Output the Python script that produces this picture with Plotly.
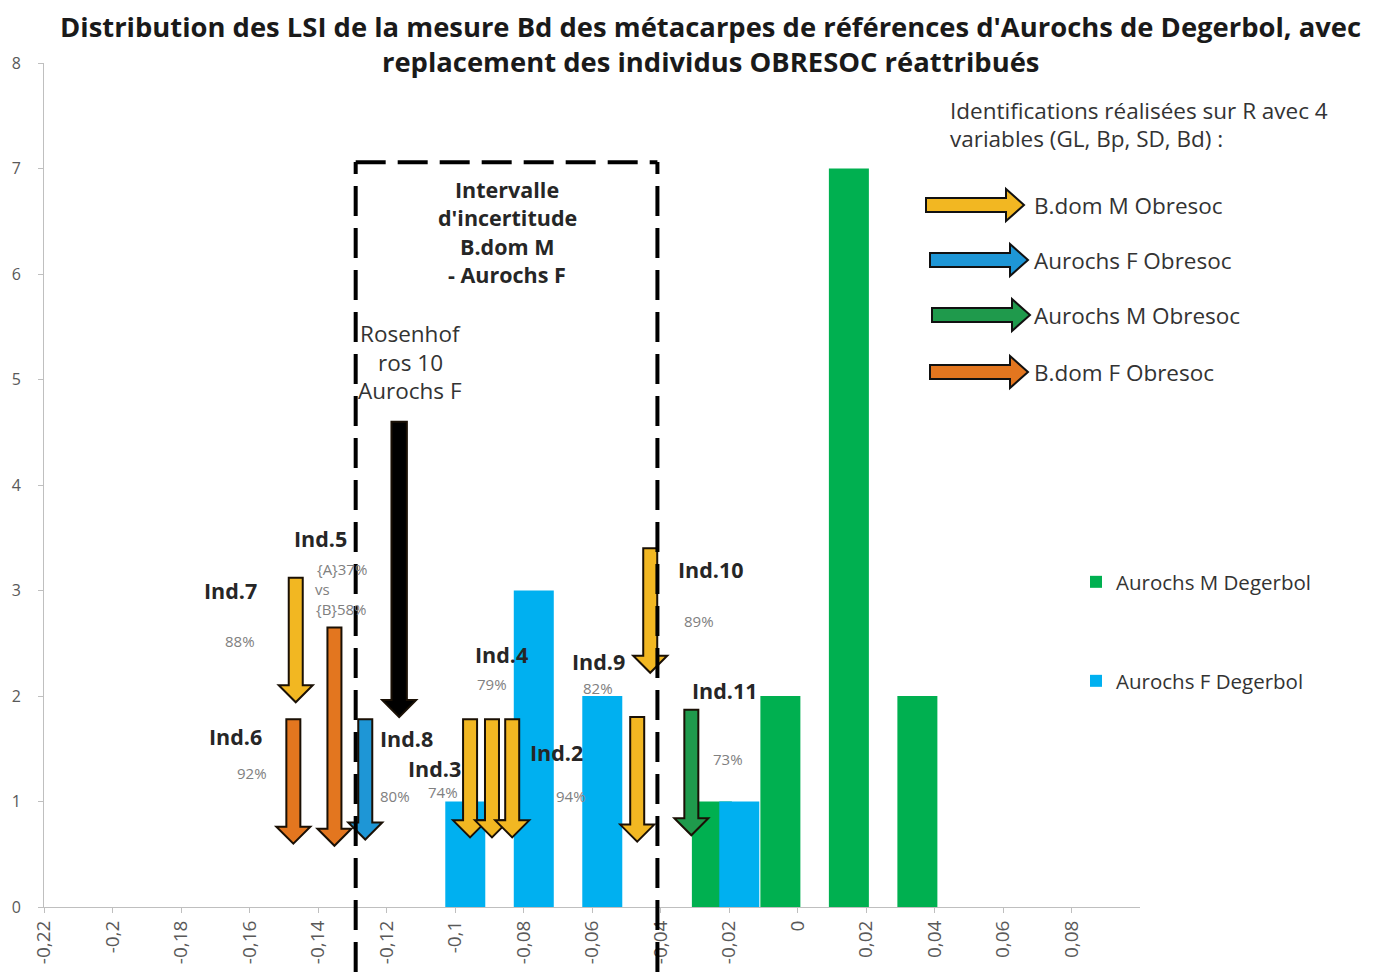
import plotly.graph_objects as go

# ---------------- data ----------------
# Degerbol reference histograms (LSI bin position, count)
lsi_f_degerbol = [-0.097, -0.077, -0.057, -0.017]
count_f_degerbol = [1, 3, 2, 1]
lsi_m_degerbol = [-0.025, -0.005, 0.015, 0.035]
count_m_degerbol = [1, 2, 7, 2]

# x axis ticks
x_tickvals = [-0.22, -0.20, -0.18, -0.16, -0.14, -0.12, -0.10, -0.08, -0.06,
              -0.04, -0.02, 0.0, 0.02, 0.04, 0.06, 0.08]
x_ticktext = ["-0,22", "-0,2", "-0,18", "-0,16", "-0,14", "-0,12", "-0,1", "-0,08",
              "-0,06", "-0,04", "-0,02", "0", "0,02", "0,04", "0,06", "0,08"]
y_tickvals = [0, 1, 2, 3, 4, 5, 6, 7, 8]

# OBRESOC reattributed individuals (arrows): LSI position, arrow top, arrow tip, group
arrow_name = ["Ind.7", "Ind.6", "Ind.5", "Ind.8", "Rosenhof ros 10", "Ind.3", "Ind.4",
              "Ind.2", "Ind.9", "Ind.10", "Ind.11"]
arrow_lsi = [-0.1465, -0.1472, -0.1352, -0.1262, -0.1163, -0.0956, -0.0892, -0.0833,
             -0.0468, -0.0430, -0.0310]
arrow_top = [3.12, 1.78, 2.65, 1.78, 4.60, 1.78, 1.78, 1.78, 1.80, 3.40, 1.87]
arrow_tip = [1.94, 0.60, 0.58, 0.64, 1.80, 0.66, 0.66, 0.66, 0.62, 2.22, 0.68]
arrow_group = ["B.dom M", "B.dom F", "B.dom F", "Aurochs F", "Rosenhof", "B.dom M",
               "B.dom M", "B.dom M", "B.dom M", "B.dom M", "Aurochs M"]

# uncertainty interval B.dom M - Aurochs F
interval_lsi = [-0.129, -0.0409]
interval_top = 7.06

# arrow legend (identification categories)
id_labels = ["B.dom M Obresoc", "Aurochs F Obresoc", "Aurochs M Obresoc", "B.dom F Obresoc"]
id_groups = ["B.dom M", "Aurochs F", "Aurochs M", "B.dom F"]

# ---------------- style / layout ----------------
W, H = 1381, 972
OFF = 8  # page body margin of the html page
REF_L, REF_T, REF_R, REF_B = 44, 63, 1140, 907  # plot area as seen on the page
L, T = REF_L - OFF, REF_T - OFF
R, B = W - (REF_R - OFF), H - (REF_B - OFF)
PW, PH = REF_R - REF_L, REF_B - REF_T
FONT = "Open Sans"
DARK = "#262626"
GREY = "#808080"

group_fill = {"B.dom M": "#f2b722", "B.dom F": "#e3761f", "Aurochs F": "#1e96d6",
              "Aurochs M": "#1f9a4c", "Rosenhof": "#000000"}
green_bar = "#00b050"
blue_bar = "#00b0f0"

X0, X1 = -0.22, 0.10
Y0, Y1 = 0, 8


def px_x(px):
    return (px - REF_L) / PW


def px_y(py):
    return (REF_B - py) / PH


def dx(px):  # pixel width -> data x units
    return px * (X1 - X0) / PW


def dy(py):  # pixel height -> data y units
    return py * (Y1 - Y0) / PH


fig = go.Figure()

fig.add_trace(go.Bar(x=lsi_m_degerbol, y=count_m_degerbol, width=dx(40),
                     marker=dict(color=green_bar, line=dict(width=0)),
                     name="Aurochs M Degerbol", legend="legend"))
fig.add_trace(go.Bar(x=lsi_f_degerbol, y=count_f_degerbol, width=dx(40),
                     marker=dict(color=blue_bar, line=dict(width=0)),
                     name="Aurochs F Degerbol", legend="legend2"))

shapes = []

# down arrows for individuals
sw, hw, hl = dx(7), dx(17), dy(17)
for x, top, tip, g in zip(arrow_lsi, arrow_top, arrow_tip, arrow_group):
    s = sw * (1.1 if g == "Rosenhof" else 1.0)
    path = (f"M{x - s},{top} L{x + s},{top} L{x + s},{tip + hl} L{x + hw},{tip + hl} "
            f"L{x},{tip} L{x - hw},{tip + hl} L{x - s},{tip + hl} Z")
    shapes.append(dict(type="path", xref="x", yref="y", path=path,
                       fillcolor=group_fill[g], line=dict(color="#1a1005", width=2),
                       layer="above"))

# dashed uncertainty box
dash_line = dict(color="#000000", width=4, dash="30px,12px")
for xv in interval_lsi:
    shapes.append(dict(type="line", xref="x", yref="paper", x0=xv, x1=xv,
                       y0=px_y(972), y1=px_y(162), line=dash_line, layer="above"))
shapes.append(dict(type="line", xref="x", yref="y", x0=interval_lsi[0], x1=interval_lsi[1],
                   y0=interval_top, y1=interval_top, line=dash_line, layer="above"))

# legend arrows (pointing right), in pixel layout
leg_arrow_x = [(926, 1024), (930, 1028), (932, 1030), (930, 1028)]
leg_arrow_y = [205, 260, 315, 372]
for (xa, xb), yc, g in zip(leg_arrow_x, leg_arrow_y, id_groups):
    x0, x1 = px_x(xa), px_x(xb)
    h = px_x(xb - 18)
    ys, yh = 7 / PH, 16 / PH
    y = px_y(yc)
    path = (f"M{x0},{y - ys} L{h},{y - ys} L{h},{y - yh} L{x1},{y} L{h},{y + yh} "
            f"L{h},{y + ys} L{x0},{y + ys} Z")
    shapes.append(dict(type="path", xref="paper", yref="paper", path=path,
                       fillcolor=group_fill[g], line=dict(color="#111111", width=2)))

annotations = []


def add_text(text, px, py, size, bold=False, color=DARK, xanchor="center"):
    annotations.append(dict(
        text=f"<b>{text}</b>" if bold else text, xref="paper", yref="paper",
        x=px_x(px), y=px_y(py), xanchor=xanchor, yanchor="middle", showarrow=False,
        font=dict(family=FONT, size=size, color=color)))


# title
add_text("Distribution des LSI de la mesure Bd des métacarpes de références d'Aurochs de Degerbol, avec",
         710, 27, 27.4, bold=True, color="#1a1a1a")
add_text("replacement des individus OBRESOC réattribués", 710, 62, 27.4, bold=True, color="#1a1a1a")

# uncertainty interval label
for line, py in zip(["Intervalle", "d'incertitude", "B.dom M", "- Aurochs F"], [190, 218, 246, 274]):
    add_text(line, 507, py, 21.5, bold=True)

# Rosenhof label
for line, py in zip(["Rosenhof", "ros 10", "Aurochs F"], [334, 362, 390]):
    add_text(line, 410, py, 22.5, color="#333333")

# identification heading
add_text("Identifications réalisées sur R avec 4", 948, 110, 22.5, color="#333333", xanchor="left")
add_text("variables (GL, Bp, SD, Bd) :", 948, 138, 22.5, color="#333333", xanchor="left")
for lab, yc in zip(id_labels, leg_arrow_y):
    add_text(lab, 1032, yc, 22.5, color="#333333", xanchor="left")

# individual labels
ind_labels = [("Ind.5", 320, 538), ("Ind.7", 230, 590), ("Ind.6", 235, 736), ("Ind.8", 406, 738),
              ("Ind.3", 434, 768), ("Ind.4", 501, 654), ("Ind.2", 556, 752), ("Ind.9", 598, 661),
              ("Ind.10", 711, 569), ("Ind.11", 725, 690)]
for t, x, y in ind_labels:
    add_text(t, x, y, 21.5, bold=True)

pct_labels = [("{A}37%", 342, 569), ("vs", 322, 589), ("{B}58%", 342, 609), ("88%", 240, 641),
              ("92%", 252, 773), ("80%", 395, 796), ("74%", 443, 792), ("79%", 492, 684),
              ("94%", 571, 796), ("82%", 598, 688), ("89%", 699, 621), ("73%", 728, 759)]
for t, x, y in pct_labels:
    add_text(t, x, y, 15, color=GREY)

leg_font = dict(family=FONT, size=20.5, color="#333333")
fig.update_layout(
    width=W, height=H,
    margin=dict(l=L, r=R, t=T, b=B, autoexpand=False),
    paper_bgcolor="white", plot_bgcolor="white",
    barmode="overlay",
    showlegend=True,
    legend=dict(x=px_x(1076), y=px_y(582), xanchor="left", yanchor="middle",
                font=leg_font, bgcolor="rgba(0,0,0,0)", itemwidth=30),
    legend2=dict(x=px_x(1076), y=px_y(681), xanchor="left", yanchor="middle",
                 font=leg_font, bgcolor="rgba(0,0,0,0)", itemwidth=30),
    xaxis=dict(range=[X0, X1], tickvals=x_tickvals, ticktext=x_ticktext, tickangle=-90,
               showgrid=False, zeroline=False, showline=True, linecolor="#bfbfbf", linewidth=1,
               ticks="outside", ticklen=5, tickcolor="#bfbfbf",
               tickfont=dict(family=FONT, size=19, color="#595959")),
    yaxis=dict(range=[Y0, Y1], tickvals=y_tickvals, showgrid=False, zeroline=False,
               showline=True, linecolor="#bfbfbf", linewidth=1, ticks="outside", ticklen=5,
               tickcolor="#bfbfbf", tickfont=dict(family=FONT, size=16, color="#595959"),
               ticklabelstandoff=14),
    shapes=shapes,
    annotations=annotations,
)

fig.write_html("out.html")
